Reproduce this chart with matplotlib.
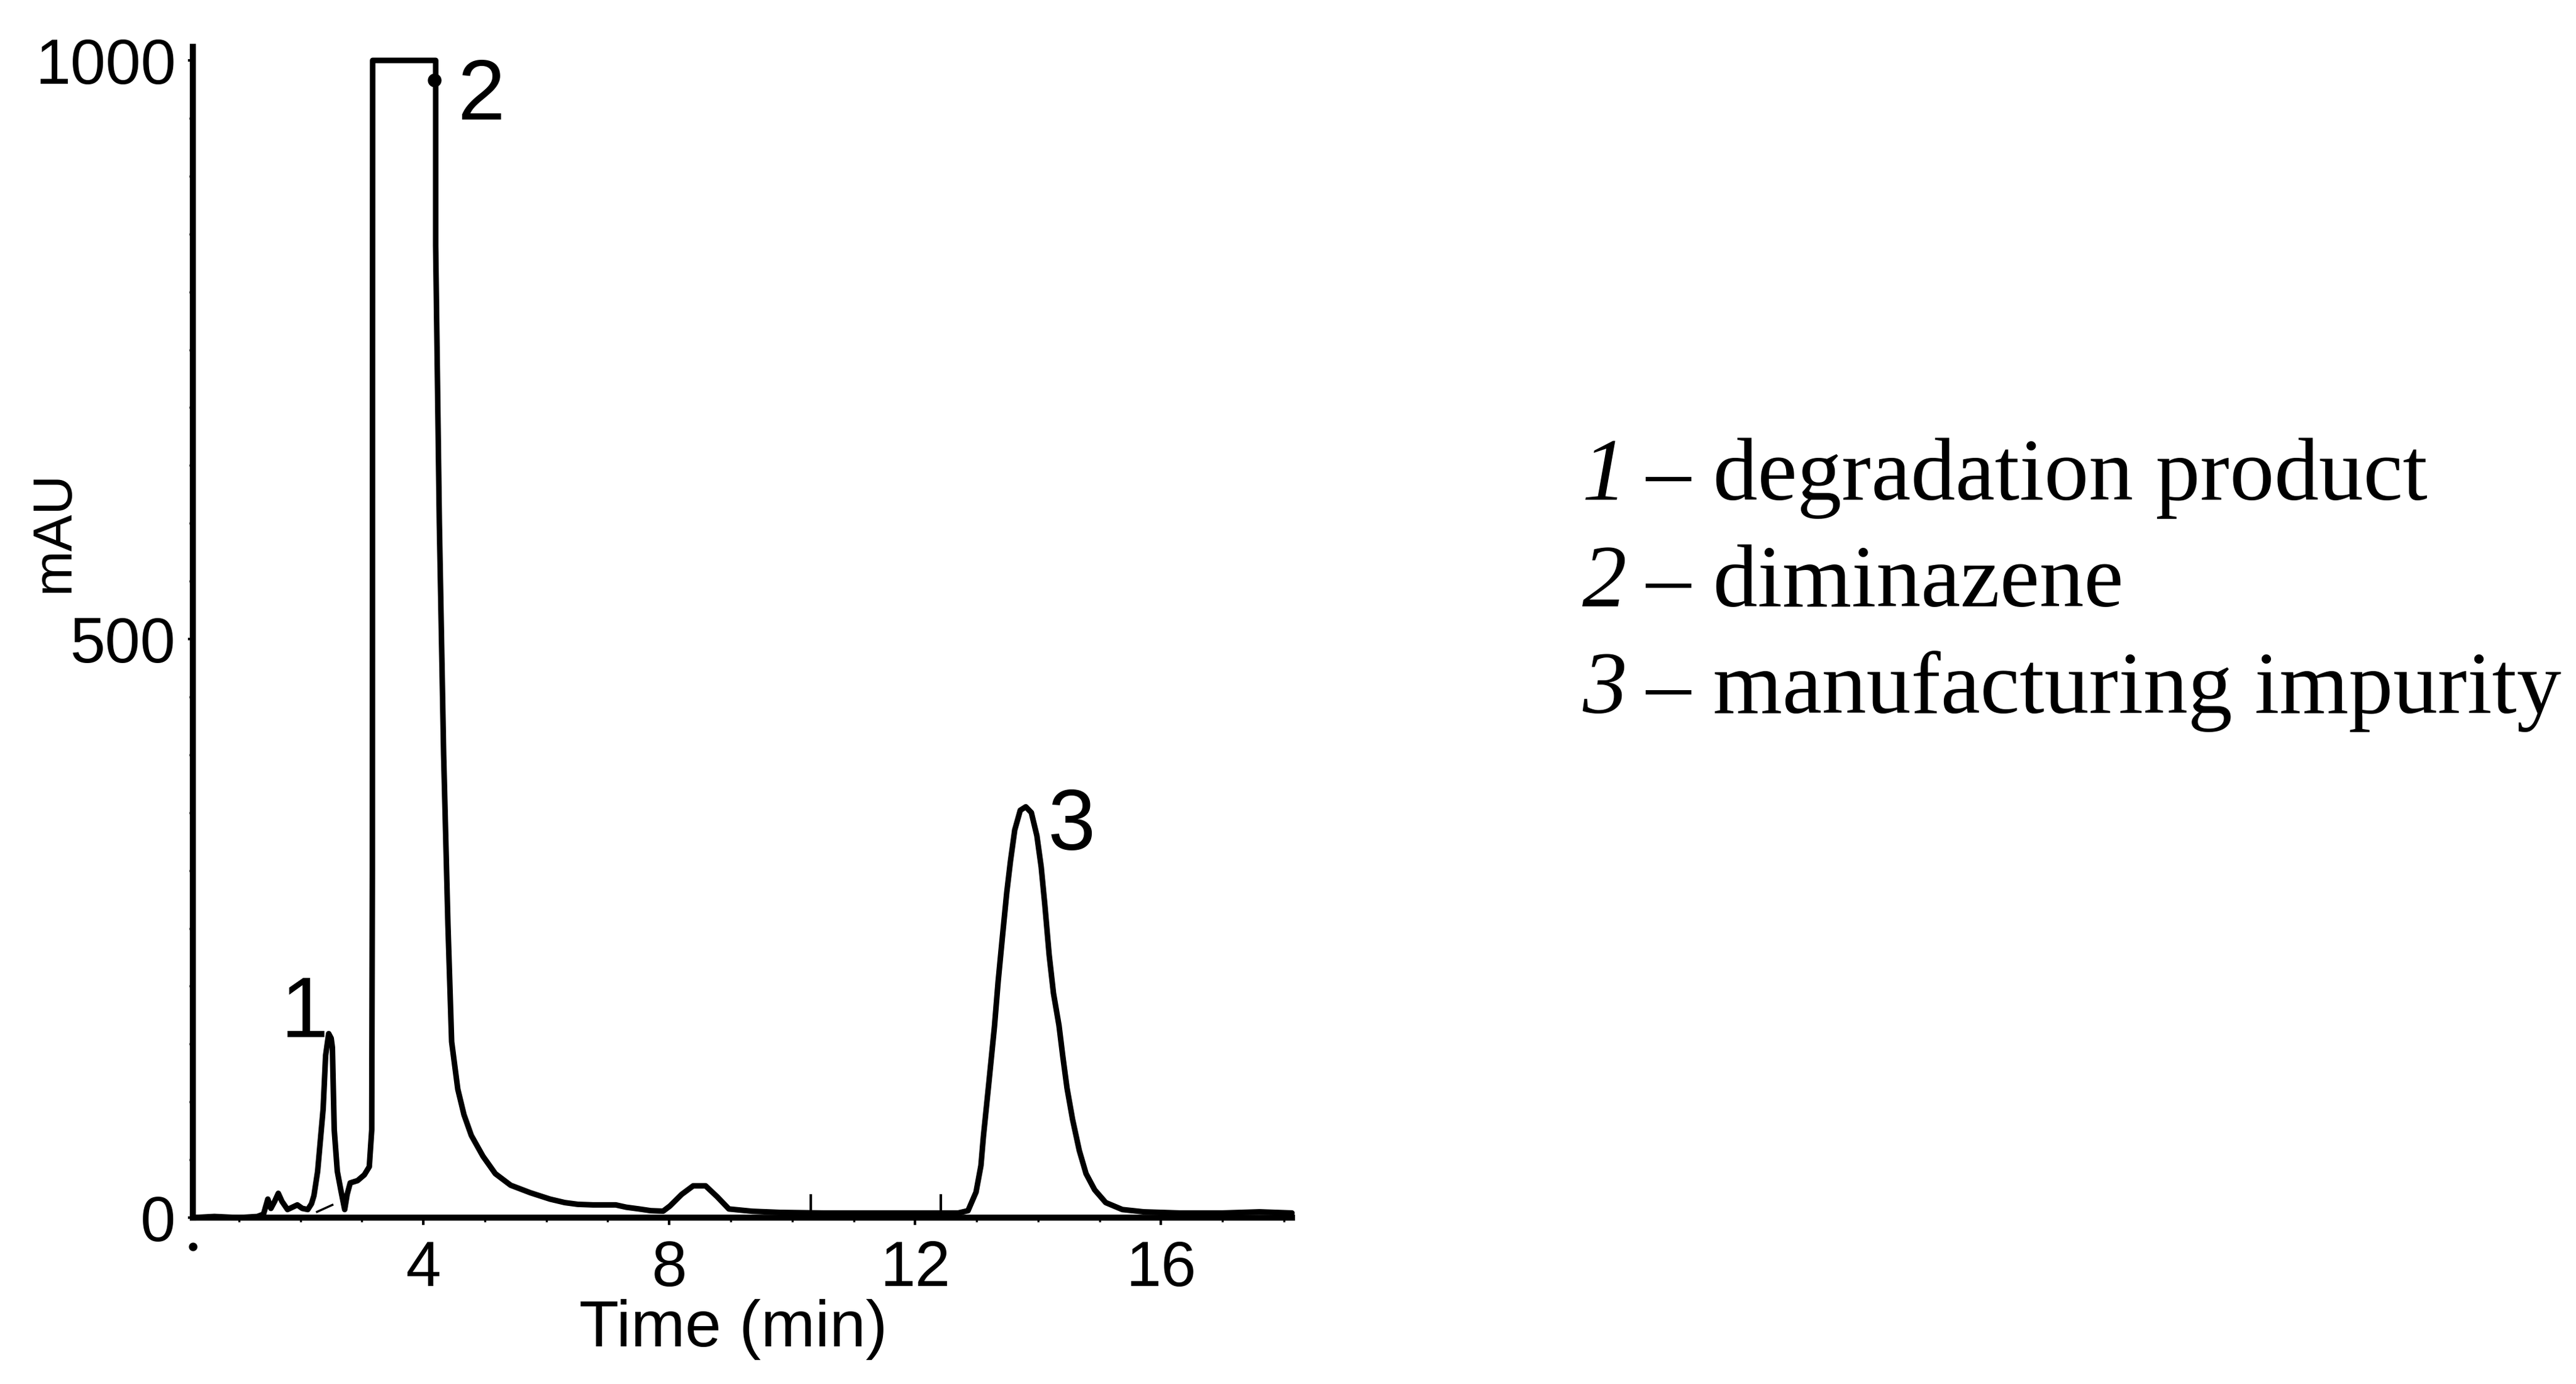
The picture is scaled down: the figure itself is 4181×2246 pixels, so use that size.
import matplotlib
matplotlib.use("Agg")
import matplotlib.pyplot as plt
from matplotlib import font_manager as fm
from matplotlib.ticker import MultipleLocator

# ---------------- data ----------------
time_min = [0.25, 0.6, 1.0, 1.30, 1.40, 1.47, 1.52, 1.58, 1.64, 1.70, 1.79, 1.87,
            1.95, 2.03, 2.12, 2.18, 2.22, 2.28, 2.33, 2.37, 2.41, 2.46, 2.50, 2.52,
            2.55, 2.60, 2.66, 2.72, 2.76, 2.81, 2.93, 3.04, 3.12, 3.16, 3.17, 3.175,
            4.20, 4.20, 4.26, 4.33, 4.40, 4.46, 4.56, 4.66, 4.78, 4.97, 5.17, 5.42,
            5.74, 6.06, 6.30, 6.51, 6.76, 6.95, 7.13, 7.30, 7.51, 7.70, 7.90, 8.01,
            8.20, 8.39, 8.59, 8.78, 8.97, 9.35, 9.81, 10.5, 11.5, 12.5, 12.70, 12.86,
            12.99, 13.07, 13.11, 13.20, 13.29, 13.35, 13.42, 13.49, 13.55, 13.62,
            13.71, 13.80, 13.89, 13.98, 14.05, 14.11, 14.18, 14.25, 14.34, 14.40,
            14.47, 14.56, 14.67, 14.78, 14.92, 15.10, 15.37, 15.72, 16.3, 17.0,
            17.6, 18.13]
signal_mau = [0, 1, 0, 1, 3, 16, 8, 14, 21, 14, 7, 9,
              11, 8, 7, 12, 19, 40, 70, 94, 140, 159, 155, 147,
              76, 40, 23, 7, 20, 30, 32, 37, 44, 76, 300, 1000,
              1000, 840, 600, 400, 253, 152, 111, 89, 71, 53, 38, 28,
              21.5, 16, 13, 11.5, 11, 11, 11, 9, 7.5, 6, 5.6, 10,
              20, 27.5, 27.5, 18, 7.5, 5.5, 4.5, 4, 4, 4, 4, 6,
              22, 45, 70, 117, 165, 204, 243, 281, 308, 335,
              352, 355, 350, 330, 303, 270, 227, 194, 166, 140,
              112, 85, 58, 38, 24, 13, 7, 5, 4, 4,
              5, 4]

integration_base_t = [2.27, 2.52]
integration_base_v = [5, 11]
event_t = [10.30, 12.42]
event_low = [4, 4]
event_high = [20, 20]
apex_marker_t = [4.18]
apex_marker_v = [983]

peak_labels = ["1", "2", "3"]
peak_label_t = [2.06, 4.95, 14.55]
peak_label_v = [156, 949, 318]

x_ticks = [4, 8, 12, 16]
y_ticks = [0, 500, 1000]

legend_numbers = ["1", "2", "3"]
legend_names = ["\u2013 degradation product", "\u2013 diminazene",
                "\u2013 manufacturing impurity"]

# ---------------- fonts ----------------
def available(name):
    try:
        fm.findfont(fm.FontProperties(family=name), fallback_to_default=False)
        return True
    except Exception:
        return False

sans = [f for f in ["Liberation Sans", "DejaVu Sans"] if available(f)] or ["DejaVu Sans"]
serif = [f for f in ["Liberation Serif", "DejaVu Serif"] if available(f)] or ["DejaVu Serif"]

plt.rcParams['font.family'] = sans

# ---------------- figure ----------------
W, H = 4181, 2246
DPI = 100
fig = plt.figure(figsize=(W / DPI, H / DPI), dpi=DPI)
ax = fig.add_axes([0.07486, 0.12021, 0.42669, 0.84617])

ax.plot(time_min, signal_mau, color="black", lw=6.5, solid_joinstyle="round",
        solid_capstyle="round", clip_on=False, zorder=3)
ax.plot(integration_base_t, integration_base_v, color="black", lw=2.5, zorder=3)
ax.vlines(event_t, event_low, event_high, color="black", lw=3, zorder=3)
ax.plot(apex_marker_t, apex_marker_v, "o", color="black", ms=15, zorder=4)
ax.plot([0.25], [-25], "o", color="black", ms=9, clip_on=False, zorder=4)

for lab, t, v in zip(peak_labels, peak_label_t, peak_label_v):
    ax.text(t, v, lab, ha="center", va="baseline", fontsize=100,
            family=sans, color="black")

ax.set_xlim(0.25, 18.13)
ax.set_ylim(0, 1012)
ax.set_xticks(x_ticks)
ax.set_yticks(y_ticks)
ax.xaxis.set_minor_locator(MultipleLocator(1))
ax.yaxis.set_minor_locator(MultipleLocator(50))

for s in ["top", "right"]:
    ax.spines[s].set_visible(False)
for s in ["left", "bottom"]:
    ax.spines[s].set_linewidth(7)

ax.tick_params(axis="x", which="major", direction="out", length=8.6, width=3,
               pad=17, labelsize=74)
ax.tick_params(axis="x", which="minor", direction="out", length=5, width=2.5)
ax.tick_params(axis="y", which="major", direction="out", length=6, width=3,
               pad=14, labelsize=74)
ax.tick_params(axis="y", which="minor", direction="out", length=4, width=2.5)

fig.text(1190 / W, 1 - 2185 / H, "Time (min)", ha="center", va="baseline",
         fontsize=76, family=sans)
fig.text(88 / W, 1 - 863 / H, "mAU", rotation=90, ha="center", va="center",
         fontsize=64, family=sans)

# ---------------- legend-like text ----------------
baselines = [811, 984, 1157]
for num, name, yb in zip(legend_numbers, legend_names, baselines):
    fig.text(2568 / W, 1 - yb / H, num, ha="left", va="baseline", fontsize=104,
             family=serif, style="italic")
    fig.text(2672 / W, 1 - yb / H, name, ha="left", va="baseline", fontsize=104,
             family=serif)

fig.savefig("out.png", dpi=DPI, facecolor="white")
